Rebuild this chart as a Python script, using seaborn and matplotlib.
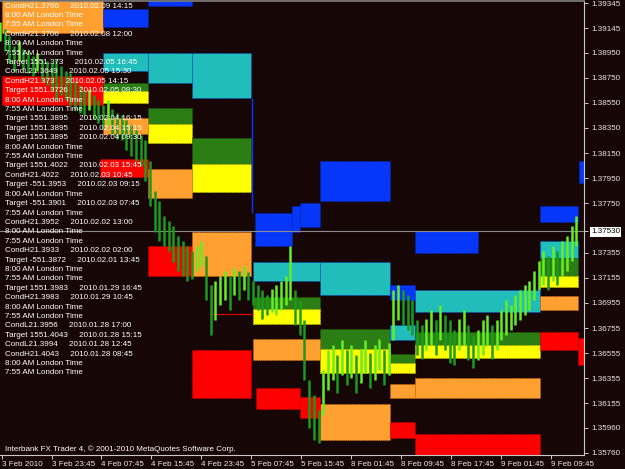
import numpy as np
import matplotlib
matplotlib.use('Agg')
import matplotlib.pyplot as plt
import seaborn as sns

bg = '#170606'
sns.set_theme(style='dark', rc={'axes.facecolor': bg, 'figure.facecolor': bg})
plt.rcParams['font.family'] = ['Liberation Sans', 'DejaVu Sans']

# EURUSD M15, one bar drawn every 3 bars (high / low)
candle_high = [1.3919, 1.3914, 1.3908, 1.3900, 1.3904, 1.3898, 1.3896, 1.3892, 1.3895, 1.3890,
               1.3888, 1.3887, 1.3890, 1.3884, 1.3880, 1.3879, 1.3872, 1.3869, 1.3865, 1.3866,
               1.3861, 1.3857, 1.3853, 1.3857, 1.3850, 1.3847, 1.3845, 1.3841, 1.3837, 1.3833,
               1.3829, 1.3825, 1.3809, 1.3785, 1.3777, 1.3765, 1.3761, 1.3757, 1.3749, 1.3745,
               1.3741, 1.3737, 1.3741, 1.3745, 1.3733, 1.3710, 1.3713, 1.3717, 1.3721, 1.3717,
               1.3723, 1.3721, 1.3725, 1.3720, 1.3713, 1.3710, 1.3706, 1.3702, 1.3707, 1.3710,
               1.3713, 1.3717, 1.3741, 1.3706, 1.3698, 1.3682, 1.3634, 1.3622, 1.3610, 1.3642,
               1.3658, 1.3662, 1.3654, 1.3666, 1.3658, 1.3662, 1.3654, 1.3659, 1.3666, 1.3656,
               1.3662, 1.3667, 1.3658, 1.3664, 1.3706, 1.3710, 1.3706, 1.3702, 1.3698, 1.3682,
               1.3678, 1.3683, 1.3690, 1.3682, 1.3694, 1.3686, 1.3682, 1.3674, 1.3683, 1.3690,
               1.3678, 1.3670, 1.3674, 1.3682, 1.3686, 1.3678, 1.3682, 1.3690, 1.3698, 1.3694,
               1.3702, 1.3706, 1.3710, 1.3713, 1.3721, 1.3729, 1.3737, 1.3733, 1.3741, 1.3737,
               1.3745, 1.3749, 1.3757, 1.3765]
candle_low = [1.3904, 1.3896, 1.3887, 1.3880, 1.3888, 1.3882, 1.3879, 1.3876, 1.3880, 1.3872,
              1.3869, 1.3865, 1.3857, 1.3861, 1.3857, 1.3853, 1.3849, 1.3847, 1.3845, 1.3849,
              1.3842, 1.3839, 1.3834, 1.3837, 1.3829, 1.3826, 1.3825, 1.3817, 1.3813, 1.3809,
              1.3805, 1.3793, 1.3773, 1.3752, 1.3745, 1.3741, 1.3737, 1.3728, 1.3721, 1.3717,
              1.3713, 1.3715, 1.3721, 1.3725, 1.3698, 1.3670, 1.3682, 1.3694, 1.3698, 1.3690,
              1.3702, 1.3698, 1.3706, 1.3698, 1.3694, 1.3690, 1.3683, 1.3686, 1.3688, 1.3686,
              1.3690, 1.3694, 1.3698, 1.3678, 1.3670, 1.3634, 1.3596, 1.3586, 1.3584, 1.3606,
              1.3626, 1.3634, 1.3624, 1.3638, 1.3630, 1.3636, 1.3624, 1.3632, 1.3640, 1.3628,
              1.3634, 1.3642, 1.3630, 1.3638, 1.3666, 1.3682, 1.3678, 1.3674, 1.3670, 1.3654,
              1.3651, 1.3658, 1.3662, 1.3654, 1.3666, 1.3658, 1.3648, 1.3646, 1.3658, 1.3662,
              1.3650, 1.3644, 1.3650, 1.3654, 1.3662, 1.3651, 1.3658, 1.3666, 1.3670, 1.3674,
              1.3678, 1.3682, 1.3686, 1.3690, 1.3698, 1.3706, 1.3710, 1.3706, 1.3713, 1.3710,
              1.3717, 1.3721, 1.3729, 1.3741]
candle_bar = np.arange(len(candle_high)) * 3

# time/price zones (bar index start/end, price low/high)
zone_start = [1, 1, 66, 95, 66, 95, 123, 66, 66, 95, 95, 123, 123, 66, 64, 95, 95, 123, 123,
              205, 163, 187, 192, 162, 205, 162, 162, 205, 205, 162, 205, 164, 192,
              250, 250, 250, 250, 250, 250,
              266, 266, 266, 266, 266, 266,
              346, 346, 346, 346, 346, 346, 370, 371]
zone_end = [66, 66, 95, 123, 95, 123, 161, 95, 95, 123, 123, 161, 161, 95, 95, 123, 123, 161, 161,
            250, 187, 192, 205, 205, 250, 205, 205, 250, 250, 205, 250, 192, 205,
            266, 266, 266, 266, 266, 266,
            306, 346, 346, 346, 346, 346,
            370, 370, 370, 370, 370, 370, 374, 374]
zone_low = [1.3911, 1.3853, 1.3915, 1.3932, 1.3880, 1.3871, 1.3859, 1.3864, 1.3855, 1.3838, 1.3823,
            1.3806, 1.3784, 1.3830, 1.3796, 1.3779, 1.3717, 1.3717, 1.3620,
            1.3777, 1.3741, 1.3752, 1.3756, 1.3713, 1.3702, 1.3691, 1.3679, 1.3659, 1.3640,
            1.3650, 1.3586, 1.3611, 1.3604,
            1.3698, 1.3666, 1.3648, 1.3640, 1.3620, 1.3588,
            1.3735, 1.3688, 1.3662, 1.3652, 1.3620, 1.3570,
            1.3760, 1.3731, 1.3717, 1.3708, 1.3690, 1.3658, 1.3646, 1.3791]
zone_high = [1.3940, 1.3876, 1.3930, 1.3940, 1.3895, 1.3895, 1.3895, 1.3871, 1.3864, 1.3851, 1.3838,
             1.3827, 1.3806, 1.3843, 1.3810, 1.3802, 1.3741, 1.3752, 1.3658,
             1.3809, 1.3767, 1.3773, 1.3775, 1.3728, 1.3728, 1.3700, 1.3691, 1.3675, 1.3659,
             1.3667, 1.3615, 1.3628, 1.3621,
             1.3710, 1.3678, 1.3655, 1.3648, 1.3631, 1.3601,
             1.3753, 1.3706, 1.3672, 1.3662, 1.3636, 1.3591,
             1.3773, 1.3745, 1.3731, 1.3717, 1.3701, 1.3672, 1.3668, 1.3809]
zone_kind = ['orange', 'red', 'blue', 'blue', 'cyan', 'cyan', 'cyan', 'green', 'yellow', 'green',
             'yellow', 'green', 'yellow', 'orange', 'red', 'orange', 'red', 'orange', 'red',
             'blue', 'blue', 'blue', 'blue', 'cyan', 'cyan', 'green', 'yellow', 'green', 'yellow',
             'orange', 'orange', 'red', 'red',
             'blue', 'cyan', 'green', 'yellow', 'orange', 'red',
             'blue', 'cyan', 'green', 'yellow', 'orange', 'red',
             'blue', 'cyan', 'green', 'yellow', 'orange', 'red', 'red', 'blue']

ytick_vals = [1.39345, 1.39145, 1.38950, 1.38750, 1.38550, 1.38350, 1.38150, 1.37950, 1.37750,
              1.37355, 1.37155, 1.36955, 1.36755, 1.36555, 1.36355, 1.36155, 1.35960, 1.35760]
last_price = 1.37530

xtick_bars = [1, 33, 65, 97, 129, 161, 193, 225, 257, 289, 321, 353]
xtick_labels = ['3 Feb 2010', '3 Feb 23:45', '4 Feb 07:45', '4 Feb 15:45', '4 Feb 23:45',
                '5 Feb 07:45', '5 Feb 15:45', '8 Feb 01:45', '8 Feb 09:45', '8 Feb 17:45',
                '9 Feb 01:45', '9 Feb 09:45']

comments = [
    'CondH21.3766     2010.02.09 14:15', '8:00 AM London Time', '7:55 AM London Time',
    'CondH21.3706     2010.02.08 12:00', '8:00 AM London Time', '7:55 AM London Time',
    'Target 1551.373     2010.02.05 16:45', 'CondL21.3649     2010.02.05 15:30',
    'CondH21.373     2010.02.05 14:15', 'Target 1551.3726     2010.02.05 08:30',
    '8:00 AM London Time', '7:55 AM London Time',
    'Target 1551.3895     2010.02.04 16:15', 'Target 1551.3895     2010.02.04 15:15',
    'Target 1551.3895     2010.02.04 09:30', '8:00 AM London Time', '7:55 AM London Time',
    'Target 1551.4022     2010.02.03 15:45', 'CondH21.4022     2010.02.03 10:45',
    'Target -551.3953     2010.02.03 09:15', '8:00 AM London Time',
    'Target -551.3901     2010.02.03 07:45', '7:55 AM London Time',
    'CondH21.3952     2010.02.02 13:00', '8:00 AM London Time', '7:55 AM London Time',
    'CondH21.3933     2010.02.02 02:00', 'Target -551.3872     2010.02.01 13:45',
    '8:00 AM London Time', '7:55 AM London Time',
    'Target 1551.3983     2010.01.29 16:45', 'CondH21.3983     2010.01.29 10:45',
    '8:00 AM London Time', '7:55 AM London Time',
    'CondL21.3956     2010.01.28 17:00', 'Target 1551.4043     2010.01.28 15:15',
    'CondL21.3994     2010.01.28 12:45', 'CondH21.4043     2010.01.28 08:45',
    '8:00 AM London Time', '7:55 AM London Time',
]

colors = {'orange': '#FFA030', 'red': '#FF0000', 'blue': '#0636F8', 'cyan': '#20BDBA',
          'green': '#2A7E14', 'yellow': '#FFFF00'}
edges = {'orange': '#E07010', 'red': '#D00000', 'blue': '#0028C0', 'cyan': '#0636F8',
         'green': '#1E5E10', 'yellow': '#D8D800'}

fig = plt.figure(figsize=(6.25, 4.69), dpi=100)
ax = fig.add_axes([0, 14 / 469, 584 / 625, 454 / 469])

for x0, x1, lo, hi, k in zip(zone_start, zone_end, zone_low, zone_high, zone_kind):
    ax.bar(x0, hi - lo, width=x1 - x0, bottom=lo, align='edge', color=colors[k],
           edgecolor=edges[k], linewidth=0.6, linestyle=':', zorder=1)

# box borders / markers
ax.vlines(161.5, 1.3767, 1.3859, color='#0636F8', lw=1, zorder=1)
ax.plot([136, 136, 162], [1.3710, 1.3687, 1.3687], color='#E00000', lw=0.8, zorder=2)
ax.axhline(last_price, color='#8C8C8C', lw=0.8, zorder=2)

mid = (np.array(candle_high) + np.array(candle_low)) / 2
up = np.r_[True, np.diff(mid) >= 0]
ax.vlines(candle_bar, candle_low, candle_high, colors=np.where(up, '#66EE22', '#1C9A1C'),
          lw=1.8, zorder=3)

ax.set_xlim(0, 374)
ax.set_ylim(1.35744, 1.39361)

ax.yaxis.tick_right()
ax.set_yticks(ytick_vals + [last_price])
ax.set_yticklabels([f'{v:.5f}' for v in ytick_vals] + [f'{last_price:.5f}'])
ax.set_xticks(xtick_bars)
ax.set_xticklabels(xtick_labels)
ax.tick_params(axis='y', colors='#E8E8E8', labelsize=5.8, length=3, width=0.6, pad=2,
               direction='out', right=True, left=False)
ax.tick_params(axis='x', colors='#E8E8E8', labelsize=5.8, length=3, width=0.6, pad=1,
               direction='out', bottom=True)
for t in ax.get_xticklabels():
    t.set_ha('left')
price_label = ax.get_yticklabels()[-1]
price_label.set_color('black')
price_label.set_bbox(dict(facecolor='white', edgecolor='none', pad=1))

ax.grid(False)
for side in ['right', 'bottom']:
    ax.spines[side].set_color('#C8C8C8')
    ax.spines[side].set_linewidth(0.8)
ax.spines['top'].set_color('#808080')
ax.spines['top'].set_linewidth(1.2)
ax.spines['left'].set_visible(False)

for i, line in enumerate(comments):
    ax.annotate(line, xy=(0, 1), xycoords='axes fraction', xytext=(5, -5 - 9.41 * i),
                textcoords='offset pixels', va='center', ha='left', color='white',
                fontsize=5.8, zorder=5)
ax.annotate('Interbank FX Trader 4, \u00a9 2001-2010 MetaQuotes Software Corp.', xy=(0, 0),
            xycoords='axes fraction', xytext=(5, 6), textcoords='offset pixels',
            va='center', ha='left', color='white', fontsize=5.8, zorder=5)

fig.savefig('out.png', dpi=100, facecolor=bg)
